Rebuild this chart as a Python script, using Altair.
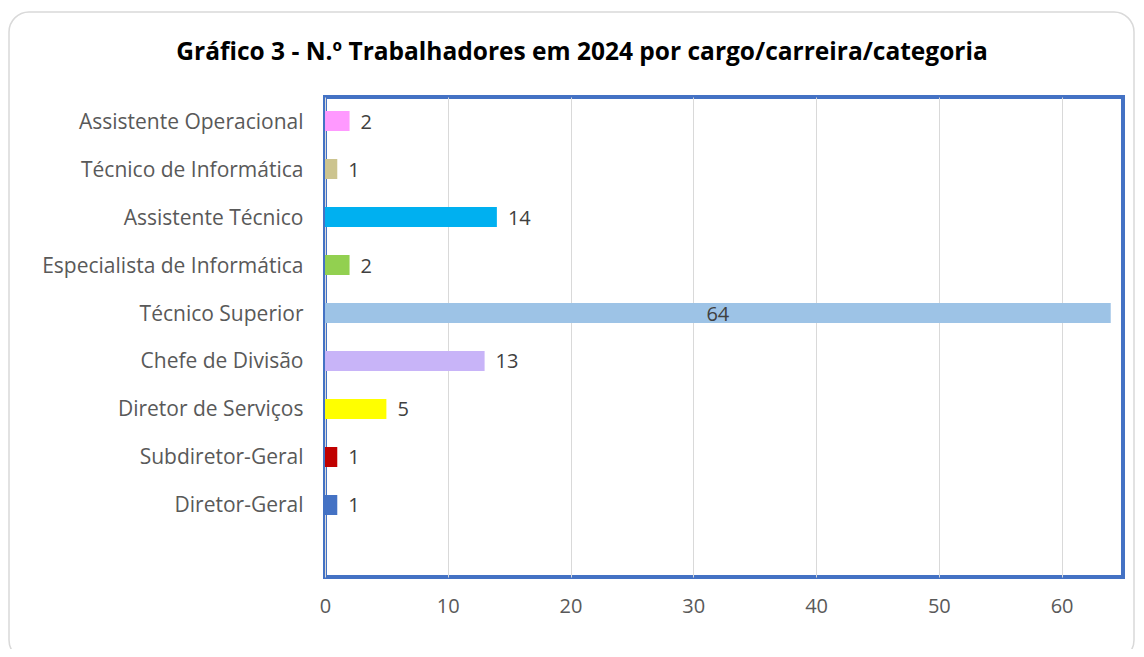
import altair as alt
import pandas as pd

categories = [
    "Assistente Operacional",
    "Técnico de Informática",
    "Assistente Técnico",
    "Especialista de Informática",
    "Técnico Superior",
    "Chefe de Divisão",
    "Diretor de Serviços",
    "Subdiretor-Geral",
    "Diretor-Geral",
]
values = [2, 1, 14, 2, 64, 13, 5, 1, 1]
colors = ["#FF99FF", "#CCC48F", "#00B0F0", "#92D050", "#9DC3E6",
          "#C8B4F8", "#FFFF00", "#C00000", "#4472C4"]
x_ticks = [0, 10, 20, 30, 40, 50, 60]
title_text = "Gráfico 3 - N.º Trabalhadores em 2024 por cargo/carreira/categoria"

df = pd.DataFrame({"cat": categories, "val": values, "color": colors})
y_domain = categories + [" "]

FONT = "Open Sans"
W, H = 798, 480

x_enc = alt.X("val:Q", scale=alt.Scale(domain=[0, 65], nice=False, zero=True),
              axis=alt.Axis(values=x_ticks, title=None, grid=True, gridColor="#D9D9D9",
                            gridWidth=1, ticks=False, domain=False, labelFontSize=20,
                            labelColor="#595959", labelFont=FONT, labelPadding=19,
                            labelFlush=False))
y_enc = alt.Y("cat:N", sort=y_domain,
              scale=alt.Scale(domain=y_domain, paddingInner=0.583, paddingOuter=0.2917),
              axis=alt.Axis(title=None, ticks=False, domain=False, labelFontSize=21,
                            labelColor="#595959", labelFont=FONT, labelPadding=22,
                            labelLimit=400, labelOffset=1.5))

base = alt.Chart(df)

bars = base.mark_bar().encode(
    x=x_enc,
    y=y_enc,
    color=alt.Color("color:N", scale=None, legend=None),
)

labels_out = base.transform_filter("datum.val < 60").mark_text(
    align="left", baseline="middle", dx=11, dy=1.5, fontSize=20, font=FONT, color="#404040"
).encode(
    x=alt.X("val:Q"),
    y=alt.Y("cat:N", sort=y_domain),
    text=alt.Text("val:Q"),
)

labels_in = base.transform_filter("datum.val >= 60").transform_calculate(
    mid="datum.val / 2"
).mark_text(
    align="center", baseline="middle", dy=1.5, fontSize=20, font=FONT, color="#404040"
).encode(
    x=alt.X("mid:Q"),
    y=alt.Y("cat:N", sort=y_domain),
    text=alt.Text("val:Q"),
)

frame = alt.Chart(alt.Data(values=[{}])).mark_rect(
    cornerRadius=20, fill="#FFFFFF", fillOpacity=0, stroke="#D9D9D9", strokeWidth=1.5
).encode(
    x=alt.value(-316), x2=alt.value(809), y=alt.value(-85), y2=alt.value(563)
)

chart = alt.layer(frame, bars, labels_out, labels_in).properties(
    width=W, height=H,
    background="#FFFFFF",
    title=alt.TitleParams(title_text, font=FONT, fontSize=24.5, fontWeight="bold",
                          color="#000000", anchor="middle", frame="group",
                          dx=-142, offset=0, dy=54),
    autosize=alt.AutoSizeParams(type="none"),
    padding={"left": 317, "top": 89, "right": 13, "bottom": 72},
).configure_view(
    stroke="#4472C4", strokeWidth=4
)

chart.save("out.html", embed_options={"renderer": "svg", "actions": False})
